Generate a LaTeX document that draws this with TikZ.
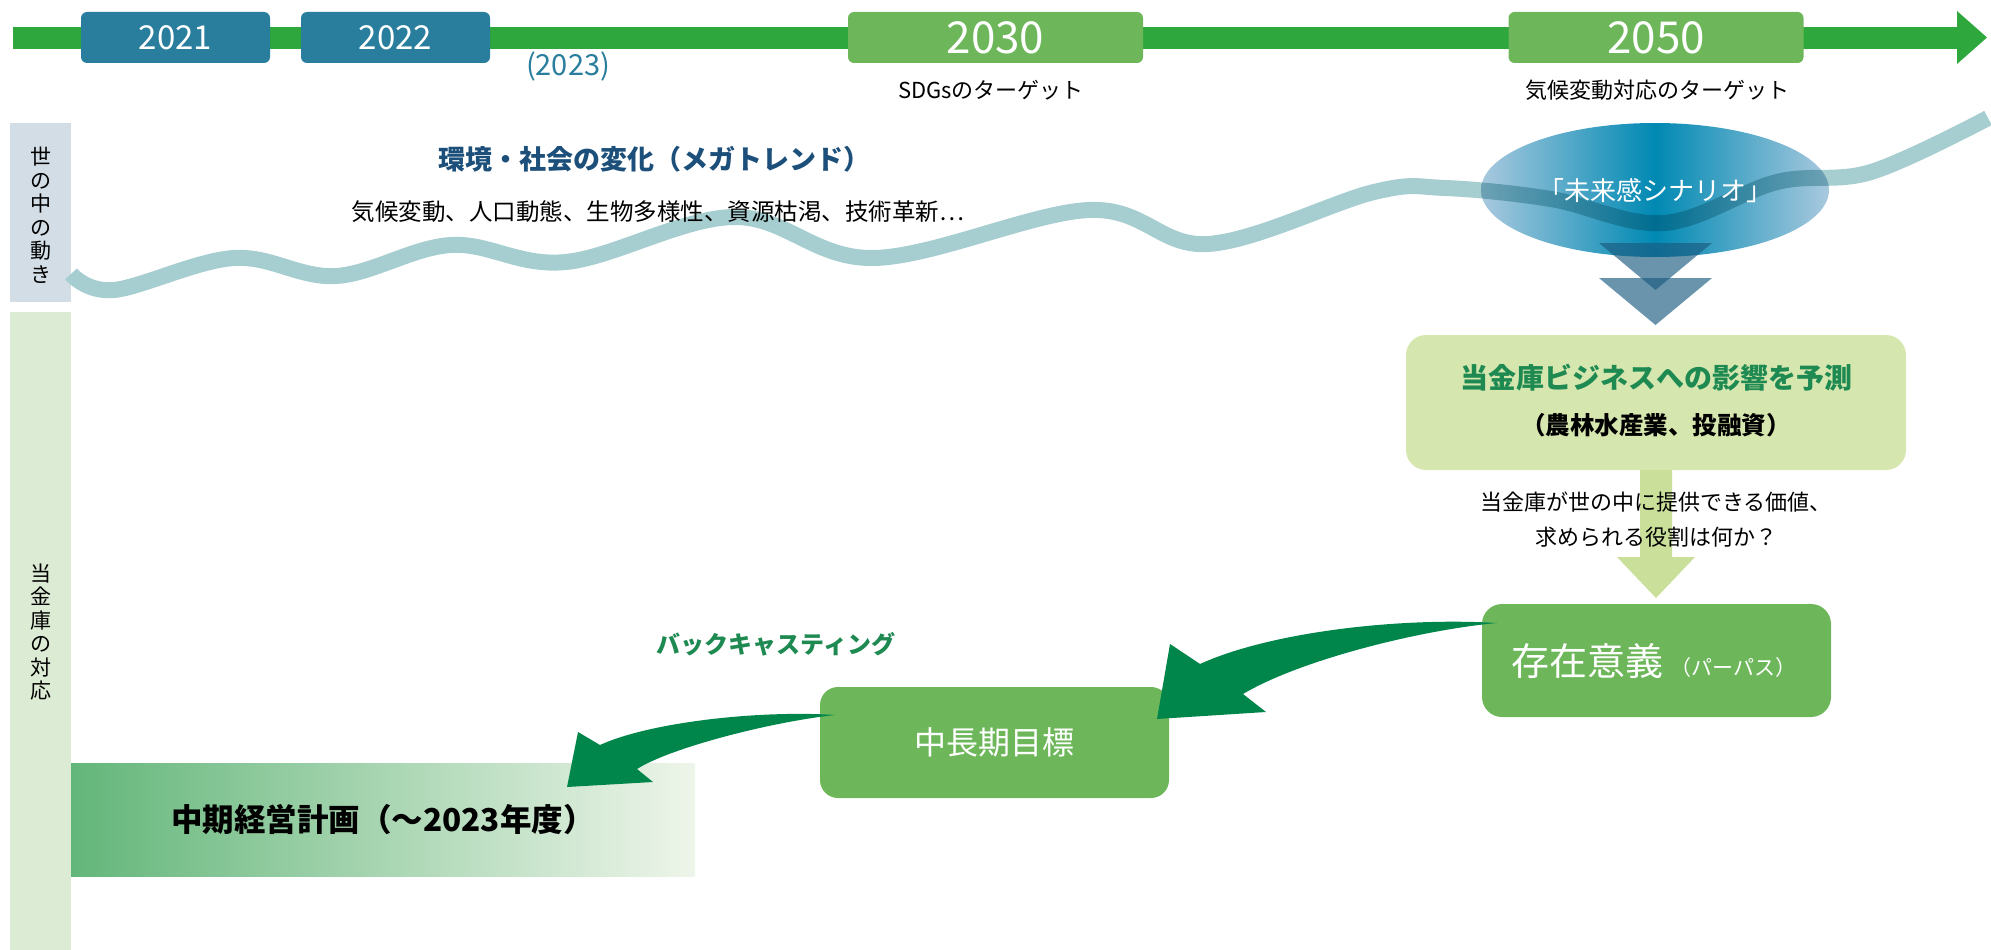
\documentclass[tikz,border=0pt]{standalone}
\usepackage{fontspec}
\setmainfont{Noto Sans CJK JP}
\usetikzlibrary{shapes.geometric}
\definecolor{tlgreen}{HTML}{2EA83C}
\definecolor{yearblue}{HTML}{287E9C}
\definecolor{yeargreen}{HTML}{6DB65A}
\definecolor{panelblue}{HTML}{D3DDE6}
\definecolor{panelgreen}{HTML}{DCEBD3}
\definecolor{wavecol}{HTML}{A6CDCF}
\definecolor{navy}{HTML}{1C4F7A}
\definecolor{ellmid}{HTML}{0089B3}
\definecolor{elledge}{HTML}{A9C9DE}
\definecolor{tricol}{HTML}{1A5A80}
\definecolor{boxlight}{HTML}{D6E6AF}
\definecolor{titlegreen}{HTML}{1E8A52}
\definecolor{arrowlight}{HTML}{C9DF9A}
\definecolor{boxgreen}{HTML}{6DB75A}
\definecolor{darkgreen}{HTML}{00854B}
\definecolor{planleft}{HTML}{63B67A}
\definecolor{planright}{HTML}{EEF5EA}
\tikzset{
  yearbox/.style={fill=yearblue, rounded corners=6pt, minimum width=189pt, minimum height=51pt, text=white, font=\fontsize{33}{38}\selectfont, inner sep=0pt},
  targetbox/.style={fill=yeargreen, rounded corners=6pt, minimum width=295pt, minimum height=51pt, text=white, font=\fontsize{44}{50}\selectfont, inner sep=0pt},
  lbl/.style={inner sep=0pt, font=\fontsize{22}{26}\selectfont},
  vlabel/.style={inner sep=0pt, align=center, font=\fontsize{21}{23.5}\selectfont},
  greenbox/.style={fill=boxgreen, rounded corners=18pt, inner sep=0pt, text=white},
  tristyle/.style={fill=tricol, fill opacity=0.65},
  bigarrow/.style={fill=darkgreen}
}
\begin{document}
\begin{tikzpicture}[x=1pt,y=-1pt]
\useasboundingbox (0,0) rectangle (1991,950);

% timeline
\fill[tlgreen] (13,27) rectangle (1958,49);
\fill[tlgreen] (1957,11) -- (1987,37.5) -- (1957,64) -- cycle;
\node[yearbox] (y2021) at (175.5,37.5) {2021};
\node[yearbox] (y2022) at (395.5,37.5) {2022};
\node[lbl, text=yearblue, font=\fontsize{29}{34}\selectfont] (y2023) at (568,66) {(2023)};
\node[targetbox] (y2030) at (995.5,37.5) {2030};
\node[targetbox] (y2050) at (1656,37.5) {2050};
\node[lbl] (sdg) at (991,90) {SDGsのターゲット};
\node[lbl] (clim) at (1657,90) {気候変動対応のターゲット};

% left panels
\fill[panelblue] (10,123) rectangle (71,302);
\fill[panelgreen] (10,312) rectangle (71,950);
\node[vlabel] (world) at (40.5,215) {世\\の\\中\\の\\動\\き};
\node[vlabel] (resp) at (40.5,632) {当\\金\\庫\\の\\対\\応};

% wave
\draw[wavecol, line width=16pt] plot[smooth, tension=0.6] coordinates {(71,274) (114,290) (234,258) (336,276) (451,245) (566,262) (734,217) (874,258) (1089,210) (1208,244) (1374,192) (1445,188) (1551,199) (1664,223) (1777,182) (1871,172) (1988,118)};

\node[lbl, text=navy, font=\fontsize{27}{31}\selectfont\bfseries] (mega) at (654,159) {環境・社会の変化（メガトレンド）};
\node[lbl, font=\fontsize{23.5}{27}\selectfont] (megalist) at (658,212) {気候変動、人口動態、生物多様性、資源枯渇、技術革新…};

% future scenario ellipse
\begin{scope}[blend mode=multiply]
\node[ellipse, minimum width=348pt, minimum height=134pt, inner sep=0pt, left color=elledge, right color=elledge, middle color=ellmid] (scen) at (1655,190) {};
\end{scope}
\node[lbl, text=white, font=\fontsize{26}{30}\selectfont] (scentext) at (1655,191) {「未来感シナリオ」};

\fill[tristyle] (1599,243) -- (1712,243) -- (1655.5,290) -- cycle;
\fill[tristyle] (1599,278) -- (1712,278) -- (1655.5,325) -- cycle;

% impact box
\node[fill=boxlight, rounded corners=20pt, minimum width=500pt, minimum height=135pt, inner sep=0pt] (impact) at (1656,402.5) {};
\node[lbl, text=titlegreen, font=\fontsize{28}{32}\selectfont\bfseries] (impt) at (1656,378) {当金庫ビジネスへの影響を予測};
\node[lbl, font=\fontsize{24.5}{28}\selectfont\bfseries] (imps) at (1656,425) {（農林水産業、投融資）};

% light arrow
\fill[arrowlight] (1640,470) -- (1672,470) -- (1672,557) -- (1695,557) -- (1656,598) -- (1617,557) -- (1640,557) -- cycle;
\node[lbl, align=center, font=\fontsize{22}{35}\selectfont] (question) at (1656,520) {当金庫が世の中に提供できる価値、\\求められる役割は何か？};

% purpose
\node[greenbox, rounded corners=20pt, minimum width=349pt, minimum height=113pt] (purpose) at (1656.5,660.5) {};
\node[lbl, text=white] (purposet) at (1654,661) {\fontsize{38}{44}\selectfont 存在意義\,\fontsize{21}{25}\selectfont（パーパス）};

% goal
\node[greenbox, minimum width=349pt, minimum height=111pt, font=\fontsize{32}{36}\selectfont] (goal) at (994.5,742.5) {中長期目標};

% plan
\shade[left color=planleft, right color=planright] (71,763) rectangle (695,876);
\node[lbl, font=\fontsize{31.5}{36}\selectfont\bfseries] (plan) at (383,820) {中期経営計画（～2023年度）};

\node[lbl, text=titlegreen, font=\fontsize{24}{28}\selectfont\bfseries] (back) at (776,644) {バックキャスティング};

% curved arrows
\coordinate (a1tail) at (1497,623);
\coordinate (a1tip) at (1157,719);
\fill[bigarrow] (a1tail) .. controls (1400,617) and (1270,632) .. (1200,664) -- (1170,644) -- (a1tip) -- (1266,712) -- (1243,694) .. controls (1300,660) and (1420,630) .. (a1tail) -- cycle;
\coordinate (a2tail) at (835,715);
\coordinate (a2tip) at (567,787);
\fill[bigarrow] (a2tail) .. controls (760,710) and (650,722) .. (600,745) -- (578,732) -- (a2tip) -- (653,782) -- (637,769) .. controls (670,748) and (770,722) .. (a2tail) -- cycle;
\end{tikzpicture}
\end{document}
